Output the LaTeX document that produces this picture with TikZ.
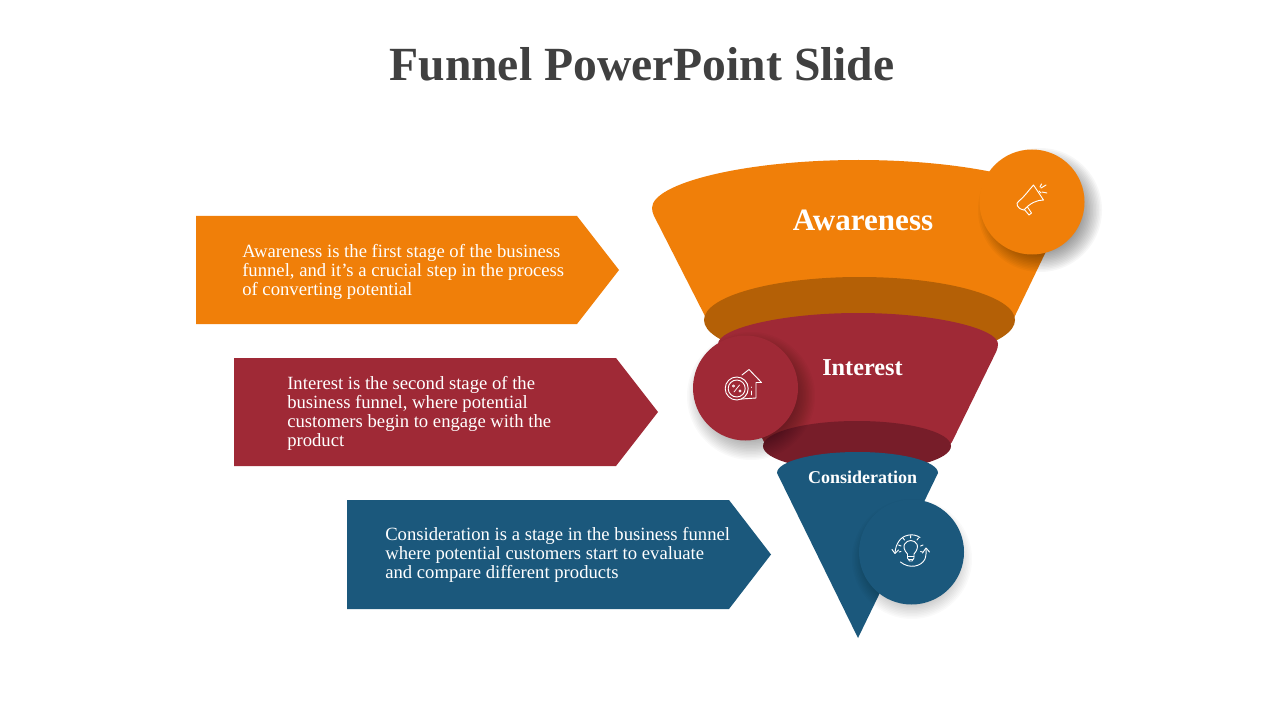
\documentclass[tikz,border=0pt]{standalone}
\usepackage{fontspec}
\setmainfont{Liberation Serif}
\definecolor{cOrange}{HTML}{F07F09}
\definecolor{cRed}{HTML}{9F2936}
\definecolor{cBlue}{HTML}{1B587C}
\definecolor{dOrange}{HTML}{B46006}
\definecolor{dRed}{HTML}{771D29}
\definecolor{cTitle}{HTML}{404040}
% #1,#2 centre of the soft shadow, #3 outer radius, #4 opacity of one layer
\newcommand{\softshadow}[4]{%
  \foreach \k in {0,...,13}{\fill[black,opacity=#4] (#1,#2) circle[radius=#3-\k*1.5];}%
}
\tikzset{
  x=0.75pt,y=-0.75pt,
  bodytext/.style={text=white,align=left,anchor=west,inner sep=0pt,font=\fontsize{14pt}{14.25pt}\selectfont},
  stagelabel/.style={text=white,inner sep=0pt,font=\bfseries},
  badge/.style={circle,minimum size=78.75pt,inner sep=0pt},
  icon/.style={draw=white,line width=0.7pt,line join=round,line cap=round},
}
\begin{document}
\begin{tikzpicture}
\useasboundingbox (0,0) rectangle (1280,720);
\fill[white] (0,0) rectangle (1280,720);
% title
\node[text=cTitle,inner sep=0pt,font=\fontsize{35.7pt}{38pt}\selectfont\bfseries] (title) at (642,64) {Funnel PowerPoint Slide};
% arrows
\fill[cOrange] (196,216) -- (577,216) -- (619,270) -- (577,324) -- (196,324) -- cycle;
\fill[cRed] (234,358) -- (616,358) -- (658,412) -- (616,466) -- (234,466) -- cycle;
\fill[cBlue] (347,500) -- (729,500) -- (771,554.5) -- (729,609) -- (347,609) -- cycle;
\node[bodytext] (t1) at (242,271.5) {Awareness is the first stage of the business\\funnel, and it's a crucial step in the process\\of converting potential};
\node[bodytext] (t2) at (287,413.5) {Interest is the second stage of the\\business funnel, where potential\\customers begin to engage with the\\product};
\node[bodytext] (t3) at (385,555) {Consideration is a stage in the business funnel\\where potential customers start to evaluate\\and compare different products};
% funnel 1
\fill[cOrange,rounded corners=3pt] (652,212) arc[start angle=180,end angle=360,x radius=206.5,y radius=52] -- (1012,322) -- (708,322) -- cycle;
\fill[dOrange] (859.5,320) ellipse[x radius=155.5,y radius=43];
% funnel 2
\fill[cRed,rounded corners=3pt] (718,348) arc[start angle=180,end angle=360,x radius=140,y radius=35] -- (950,446) -- (766,446) -- cycle;
\fill[dRed] (857,446) ellipse[x radius=94,y radius=25];
% funnel 3
\fill[cBlue] (777,473) arc[start angle=180,end angle=360,x radius=80.5,y radius=21] -- (858,638) -- cycle;
% labels
\node[stagelabel,font=\fontsize{23.3pt}{25pt}\selectfont\bfseries] (aw) at (863,220) {Awareness};
\node[stagelabel,font=\fontsize{18.2pt}{20pt}\selectfont\bfseries] (in) at (862.5,368) {Interest};
\node[stagelabel,font=\fontsize{13.5pt}{15pt}\selectfont\bfseries] (co) at (862.5,477) {Consideration};
% badges
\softshadow{1040}{210}{62}{0.03}
\node[badge,fill=cOrange] (b1) at (1032,202) {};
\softshadow{751}{396}{64}{0.022}
\node[badge,fill=cRed] (b2) at (745.5,388) {};
\softshadow{912}{559}{60}{0.018}
\node[badge,fill=cBlue] (b3) at (911.5,552) {};
% megaphone
\draw[icon] (1019,201) .. controls (1024,197) and (1029,190) .. (1033.5,185) -- (1043.5,200) .. controls (1037,200) and (1030,203) .. (1024,210);
\draw[icon] (1019,201) .. controls (1015,203) and (1017,209) .. (1024,210);
\draw[icon] (1024,209) -- (1029,215) -- (1031.5,213) -- (1027.5,207);
\draw[icon] (1039,191) -- (1041,193) (1041,188) -- (1046,185) (1042,192) -- (1047,193) (1040,187) -- (1041.5,184);
% percent house
\draw[icon] (736.7,388.5) circle[radius=11.5] (736.7,388.5) circle[radius=8.5];
\draw[icon,line width=0.55pt] (734,392) -- (739.5,385) (733.5,386) circle[radius=1.2] (740,391) circle[radius=1.2];
\draw[icon] (742,375) -- (749,369.5) -- (761.5,382.5) -- (756,382.5) -- (756,398) -- (741,399);
\draw[icon] (751,387) -- (751,387.5) (751,391) -- (751,395);
% bulb
\draw[icon] (907.5,558) -- (907.5,554) .. controls (900,546) and (906,540.5) .. (910.7,540.5) .. controls (916,540.5) and (921,546) .. (914,554) -- (914,558) -- (912,561) -- (909.5,561) -- cycle;
\draw[icon,line width=0.5pt] (908,556.5) -- (914,556.5) (908.5,559) -- (913,559);
\draw[icon] (910.7,535.5) -- (910.7,538) (903,538) -- (904.5,540) (918.5,538) -- (917,540) (898.5,545) -- (901,546) (923,545) -- (920.5,546) (899,552) -- (901,551.5) (922.5,552) -- (920.5,551.5);
\draw[icon] (920,537.5) .. controls (913,532.5) and (903,535) .. (899,541) .. controls (896.5,544.5) and (895.5,548) .. (895,553);
\draw[icon] (892,549.5) -- (895,553.5) -- (898.5,550);
\draw[icon] (900.5,562) .. controls (909,569) and (921,567) .. (925,559) .. controls (926,555) and (926.5,552) .. (926,549);
\draw[icon] (922.5,553) -- (926,548) -- (929.5,552);
\end{tikzpicture}
\end{document}
